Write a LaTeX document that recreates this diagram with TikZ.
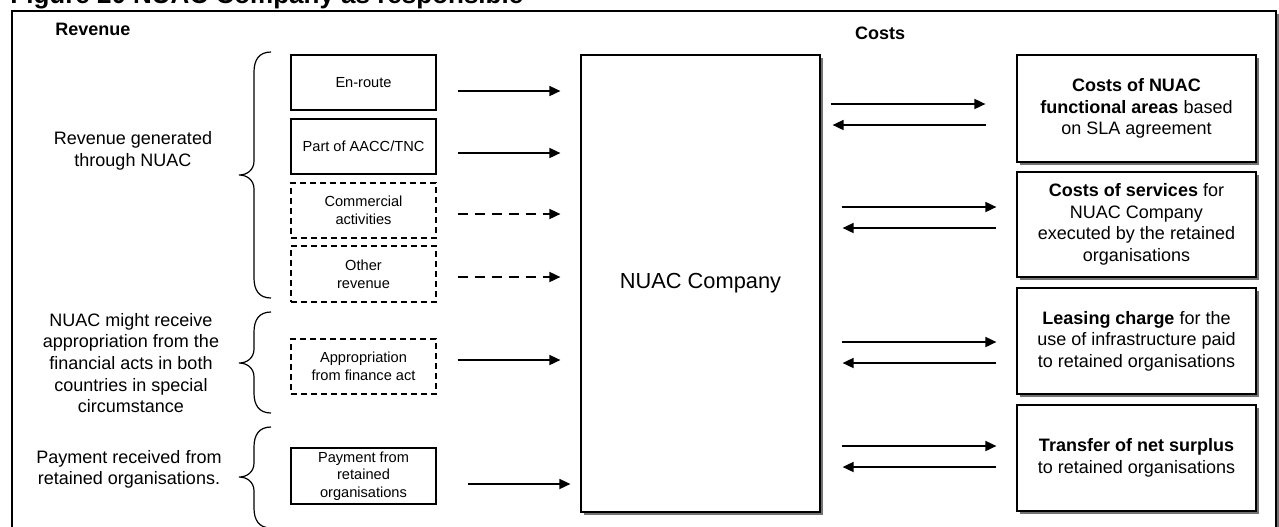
\documentclass[tikz,border=0pt]{standalone}
\usepackage{fontspec}
\setmainfont{Liberation Sans}
\usetikzlibrary{arrows.meta,shadows}

\begin{document}
\begin{tikzpicture}[x=0.5pt,y=-0.5pt,
  every node/.style={font=\fontsize{9}{10.8}\selectfont, inner sep=0pt, align=center},
  head/.style={font=\fontsize{9}{10.8}\selectfont\bfseries},
  box/.style={draw, line width=0.6pt, minimum width=72.5pt, minimum height=27.5pt,
    font=\fontsize{7.3}{8.8}\selectfont},
  dbox/.style={box, dash pattern=on 3pt off 2pt},
  shade/.style={drop shadow={shadow xshift=1.6pt, shadow yshift=-1.6pt, fill=black!55, opacity=1}},
  shbox/.style={draw, line width=0.6pt, fill=white, shade},
  costbox/.style={shbox, minimum width=119.5pt},
  arr/.style={line width=0.85pt, -{Triangle[length=5.5pt,width=5pt]}},
  darr/.style={arr, dash pattern=on 5pt off 3.5pt},
  curly/.style={line width=0.6pt},
]
\clip (0,0) rectangle (1279,526);

% title and outer frame
\node (title) [anchor=base west, font=\fontsize{13}{15}\selectfont\bfseries] at (10,3.5)
  {Figure 20 NUAC Company as responsible};
\draw[line width=0.9pt, fill=white, shade] (12,11) rectangle (1276,580);

% column headings
\node (revhead) [head, anchor=west] at (55,29) {Revenue};
\node (costhead) [head] at (880,33) {Costs};

% left-hand explanations
\node (lab1) at (133,151) {Revenue generated\\through NUAC};
\node (lab2) at (131,363) {NUAC might receive\\appropriation from the\\financial acts in both\\countries in special\\circumstance};
\node (lab3) at (129,469.5) {Payment received from\\retained organisations.};

% braces
\draw[curly] (271,52) .. controls (259,52) and (254,60) .. (254,72) -- (254,161)
  .. controls (254,170) and (247,175) .. (239,175)
  .. controls (247,175) and (254,180) .. (254,189) -- (254,278)
  .. controls (254,290) and (259,298) .. (271,298);
\draw[curly] (271,312) .. controls (259,312) and (254,320) .. (254,332) -- (254,349)
  .. controls (254,358) and (247,363) .. (239,363)
  .. controls (247,363) and (254,368) .. (254,377) -- (254,393)
  .. controls (254,405) and (259,413) .. (271,413);
\draw[curly] (271,427) .. controls (259,427) and (254,435) .. (254,447) -- (254,463)
  .. controls (254,472) and (247,477) .. (239,477)
  .. controls (247,477) and (254,482) .. (254,491) -- (254,508)
  .. controls (254,520) and (259,528) .. (271,528);

% revenue sources
\node[box] (enroute) at (363.5,82.5) {En-route};
\node[box] (aacc) at (363.5,146.5) {Part of AACC/TNC};
\node[dbox] (comm) at (363.5,210.5) {Commercial\\activities};
\node[dbox, minimum height=28pt] (other) at (363.5,274) {Other\\revenue};
\node[dbox] (approp) at (363.5,366.5) {Appropriation\\from finance act};
\node[box, minimum height=28pt] (pay) at (363.5,476) {Payment from\\retained\\organisations};

% company
\node[shbox, minimum width=119.5pt, minimum height=228.5pt,
  font=\fontsize{10.9}{13}\selectfont] (nuac) at (700.5,283.5) {NUAC Company};

% cost items
\node[costbox, minimum height=53.5pt] (c1) at (1136.5,108.5)
  {\textbf{Costs of NUAC}\\\textbf{functional areas} based\\on SLA agreement};
\node[costbox, minimum height=52.5pt] (c2) at (1136.5,224.5)
  {\textbf{Costs of services} for\\NUAC Company\\executed by the retained\\organisations};
\node[costbox, minimum height=53pt] (c3) at (1136.5,341)
  {\textbf{Leasing charge} for the\\use of infrastructure paid\\to retained organisations};
\node[costbox, minimum height=53pt] (c4) at (1136.5,458)
  {\textbf{Transfer of net surplus}\\to retained organisations};

% revenue flows
\draw[arr, shorten <=10.5pt, shorten >=10pt] (enroute.east |- 0,91) -- (nuac.west |- 0,91);
\draw[arr, shorten <=10.5pt, shorten >=10pt] (aacc.east |- 0,153) -- (nuac.west |- 0,153);
\draw[darr, shorten <=10.5pt, shorten >=10pt] (comm.east |- 0,214) -- (nuac.west |- 0,214);
\draw[darr, shorten <=10.5pt, shorten >=10pt] (other.east |- 0,277) -- (nuac.west |- 0,277);
\draw[arr, shorten <=10.5pt, shorten >=10pt] (approp.east |- 0,360) -- (nuac.west |- 0,360);
\draw[arr, shorten <=15.5pt, shorten >=5pt] (pay.east |- 0,484) -- (nuac.west |- 0,484);

% cost flows
\draw[arr, shorten <=5pt, shorten >=15.5pt] (nuac.east |- 0,104) -- (c1.west |- 0,104);
\draw[arr, shorten <=15pt, shorten >=6pt] (c1.west |- 0,125) -- (nuac.east |- 0,125);
\draw[arr, shorten <=10.5pt, shorten >=10pt] (nuac.east |- 0,207) -- (c2.west |- 0,207);
\draw[arr, shorten <=10pt, shorten >=11pt] (c2.west |- 0,228) -- (nuac.east |- 0,228);
\draw[arr, shorten <=10.5pt, shorten >=10pt] (nuac.east |- 0,342) -- (c3.west |- 0,342);
\draw[arr, shorten <=10pt, shorten >=11pt] (c3.west |- 0,363) -- (nuac.east |- 0,363);
\draw[arr, shorten <=10.5pt, shorten >=10pt] (nuac.east |- 0,446) -- (c4.west |- 0,446);
\draw[arr, shorten <=10pt, shorten >=11pt] (c4.west |- 0,467) -- (nuac.east |- 0,467);
\end{tikzpicture}
\end{document}
